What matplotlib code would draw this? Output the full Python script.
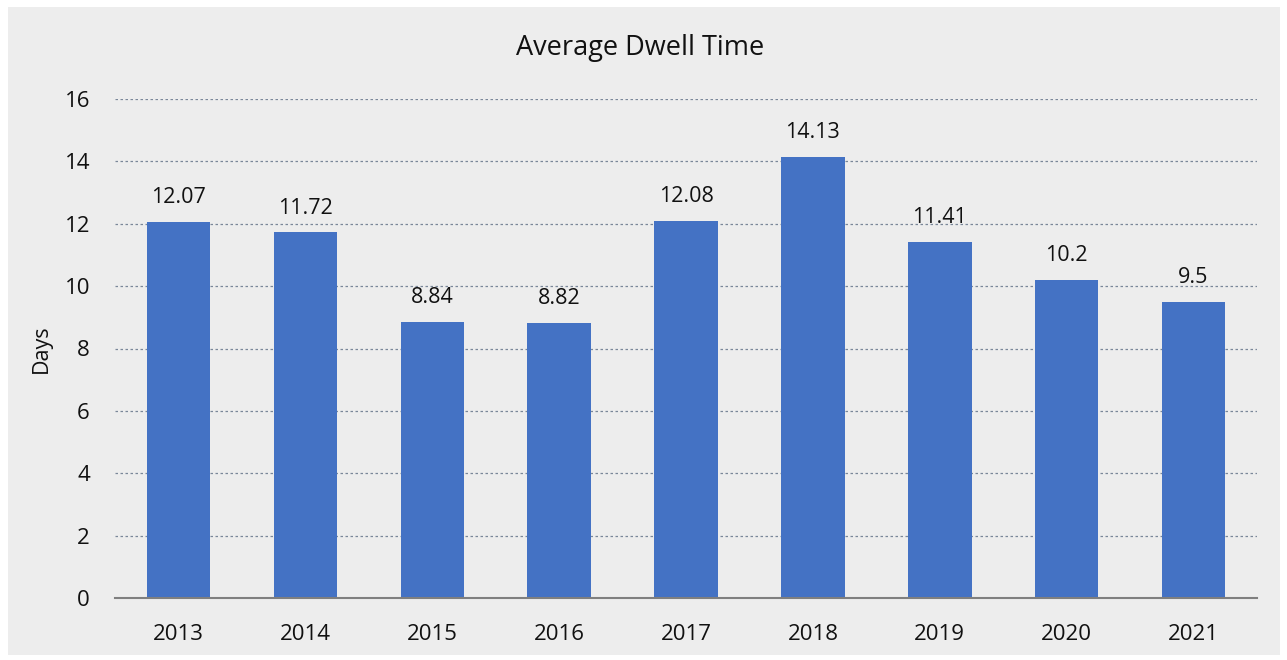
import matplotlib
matplotlib.use("Agg")
import matplotlib.pyplot as plt
from matplotlib.patches import Rectangle

years = ["2013", "2014", "2015", "2016", "2017", "2018", "2019", "2020", "2021"]
dwell_days = [12.07, 11.72, 8.84, 8.82, 12.08, 14.13, 11.41, 10.2, 9.5]
value_labels = ["12.07", "11.72", "8.84", "8.82", "12.08", "14.13", "11.41", "10.2", "9.5"]
y_ticks = [0, 2, 4, 6, 8, 10, 12, 14, 16]

plt.rcParams['font.family'] = ['Open Sans', 'DejaVu Sans']

fig = plt.figure(figsize=(12.87, 6.6), dpi=100, facecolor='white')
bg = '#ededed'
fig.patches.append(Rectangle((8/1287, 1 - 655/660), (1280-8)/1287, (655-7)/660,
                             transform=fig.transFigure, facecolor=bg, edgecolor='none', zorder=-10))

ax = fig.add_axes([115/1287, 1 - 598/660, (1257-115)/1287, (598-99)/660])
ax.set_facecolor(bg)
ax.patch.set_alpha(0)

x = list(range(len(years)))
bars = ax.bar(x, dwell_days, width=0.5, color='#4472c4', zorder=3)
for xi, v, lab in zip(x, dwell_days, value_labels):
    ax.annotate(lab, (xi, v), xytext=(0, 10), textcoords='offset points',
                ha='center', va='bottom', fontsize=15.5, color='#111111')

ax.set_xlim(-0.5, len(years) - 0.5)
ax.set_ylim(0, 16)
ax.set_yticks(y_ticks)
ax.set_xticks(x)
ax.set_xticklabels(years)
ax.tick_params(axis='both', length=0, labelsize=16, colors='#111111')
ax.tick_params(axis='x', pad=19)
ax.tick_params(axis='y', pad=18)
ax.yaxis.grid(True, linestyle=(0, (2, 2)), color='#7a8799', linewidth=0.9, zorder=0)
ax.set_axisbelow(True)
for s in ['top', 'right', 'left']:
    ax.spines[s].set_visible(False)
ax.spines['bottom'].set_color('#7f7f7f')
ax.spines['bottom'].set_linewidth(1.5)
ax.spines['bottom'].set_zorder(4)

ax.set_ylabel('Days', fontsize=15.5, color='#111111', labelpad=9)
fig.text(640/1287, 1 - 48/660, 'Average Dwell Time', ha='center', va='center', fontsize=19.5, color='#111111')

fig.savefig('out.png', dpi=100, facecolor='white')
